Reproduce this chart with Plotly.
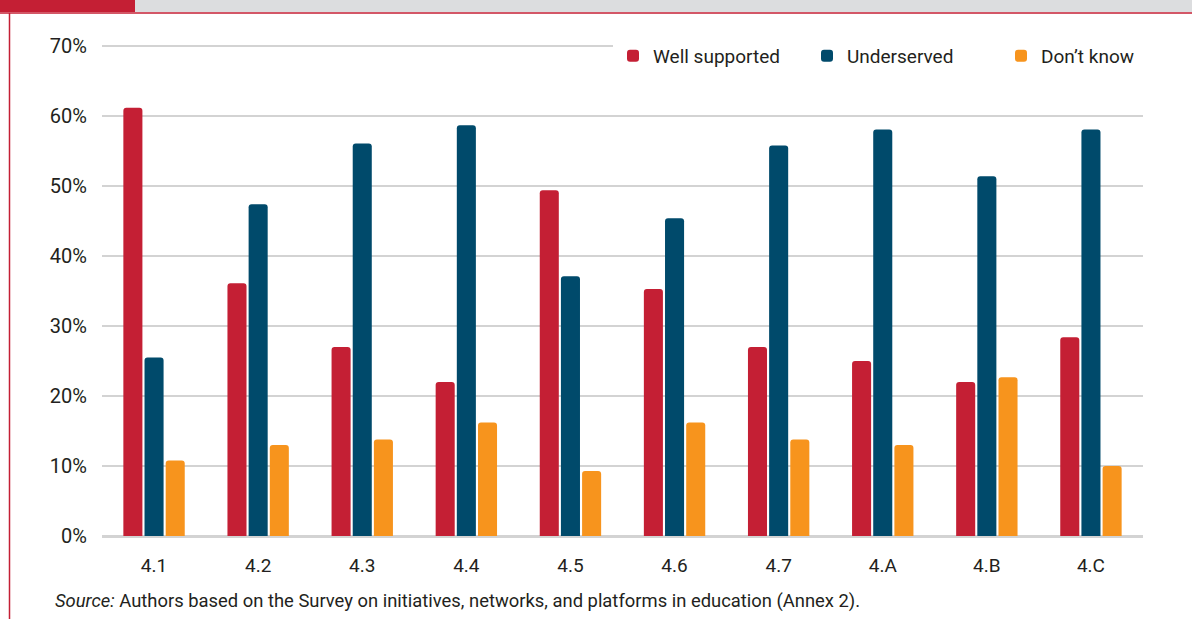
import plotly.graph_objects as go

categories = ["4.1", "4.2", "4.3", "4.4", "4.5", "4.6", "4.7", "4.A", "4.B", "4.C"]
well_supported = [61.2, 36.1, 27.0, 22.0, 49.4, 35.3, 27.0, 25.0, 22.0, 28.4]
underserved = [25.5, 47.4, 56.1, 58.7, 37.1, 45.4, 55.8, 58.1, 51.4, 58.1]
dont_know = [10.8, 13.0, 13.8, 16.2, 9.3, 16.2, 13.8, 13.0, 22.7, 10.0]
series_names = ["Well supported", "Underserved", "Don\u2019t know"]
tick_vals = [0, 10, 20, 30, 40, 50, 60, 70]
tick_text = ["0%", "10%", "20%", "30%", "40%", "50%", "60%", "70%"]
source_text = "<i>Source:</i> Authors based on the Survey on initiatives, networks, and platforms in education (Annex 2)."

RED = "#c41f34"
BLUE = "#004a6b"
ORANGE = "#f7941d"
TXT = "#231f20"
FONT = "Roboto"

W, H = 1192, 619
L, R, T, B = 102, 49, 44, 76
PW, PH = W - L - R, H - T - B


def px_x(x):
    return (x - L) / PW


def px_y(y):
    return 1 - (y - T) / PH


fig = go.Figure()
for name, vals, col in zip(series_names, [well_supported, underserved, dont_know], [RED, BLUE, ORANGE]):
    fig.add_trace(go.Bar(x=categories, y=vals, name=name, marker=dict(color=col, line=dict(width=0))))

shapes = [
    dict(type="rect", xref="paper", yref="paper", x0=px_x(135), x1=px_x(W + 5), y0=px_y(12), y1=px_y(-5),
         fillcolor="#dcdddf", line=dict(width=0)),
    dict(type="rect", xref="paper", yref="paper", x0=px_x(-5), x1=px_x(135), y0=px_y(12), y1=px_y(-5),
         fillcolor=RED, line=dict(width=0)),
    dict(type="line", xref="paper", yref="paper", x0=px_x(0), x1=px_x(W), y0=px_y(13), y1=px_y(13),
         line=dict(color=RED, width=1.5)),
    dict(type="line", xref="paper", yref="paper", x0=px_x(9.5), x1=px_x(9.5), y0=px_y(13), y1=px_y(H + 5),
         line=dict(color=RED, width=1.5)),
]

fig.update_layout(
    width=W, height=H,
    margin=dict(l=L, r=R, t=T, b=B, pad=0, autoexpand=False),
    paper_bgcolor="white", plot_bgcolor="white",
    barmode="group", bargap=0.39, bargroupgap=0.1,
    barcornerradius=3,
    font=dict(family=FONT, color=TXT, size=19),
    showlegend=True,
    legend=dict(orientation="h", x=px_x(613), xanchor="left", y=px_y(56), yanchor="middle",
                bgcolor="white", font=dict(size=19, color=TXT, family=FONT),
                entrywidth=149, entrywidthmode="pixels", itemwidth=30, traceorder="normal"),
    xaxis=dict(showgrid=False, showline=False, ticks="", tickfont=dict(size=19, color=TXT),
               ticklabelstandoff=9, fixedrange=True, automargin=False),
    yaxis=dict(range=[-1, 70.3], tickvals=tick_vals, ticktext=tick_text, showgrid=True,
               gridcolor="#d3d3d3", gridwidth=2, zeroline=True, zerolinecolor="#d3d3d3", zerolinewidth=3,
               showline=False, ticks="", tickfont=dict(size=20, color=TXT), ticklabelstandoff=14,
               automargin=False, fixedrange=True),
    shapes=shapes,
    annotations=[
        dict(text=source_text, xref="paper", yref="paper", x=px_x(53), y=px_y(601), xanchor="left",
             yanchor="middle", showarrow=False, font=dict(size=18.4, color=TXT, family=FONT)),
    ],
)

fig.write_html(
    "out.html",
    config={"displayModeBar": False},
    post_script="document.body.style.margin='0';document.body.style.overflow='hidden';",
)
